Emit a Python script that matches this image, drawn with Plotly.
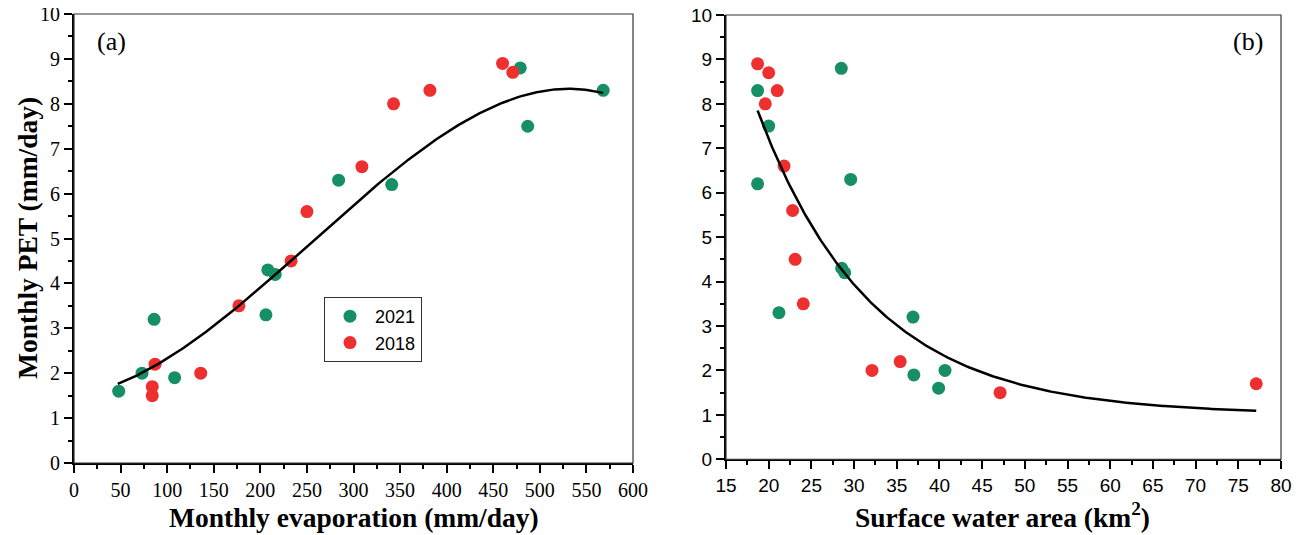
import numpy as np
import plotly.graph_objects as go

# ---------------- data ----------------
# Panel (a): monthly evaporation (mm/day) vs monthly PET (mm/day)
evap_2021 = [48, 73, 86, 108, 206, 208, 216, 284, 341, 479, 487, 568]
pet_2021 = [1.6, 2.0, 3.2, 1.9, 3.3, 4.3, 4.2, 6.3, 6.2, 8.8, 7.5, 8.3]
evap_2018 = [84, 84, 87, 136, 177, 233, 250, 309, 343, 382, 460, 471]
pet_2018 = [1.5, 1.7, 2.2, 2.0, 3.5, 4.5, 5.6, 6.6, 8.0, 8.3, 8.9, 8.7]

fitcurve_a_x = [47, 73, 87, 177, 233, 285, 341, 529, 568]
fitcurve_a_y = [1.74, 2.0, 2.22, 3.45, 4.5, 5.52, 6.45, 8.32, 8.25]

# Panel (b): surface water area (km2) vs monthly PET (mm/day)
area_2021 = [18.7, 20.0, 28.5, 18.7, 29.6, 28.55, 28.9, 21.2, 36.9, 37.0, 40.65, 39.9]
petb_2021 = [8.3, 7.5, 8.8, 6.2, 6.3, 4.3, 4.2, 3.3, 3.2, 1.9, 2.0, 1.6]
area_2018 = [18.7, 20.0, 21.0, 19.6, 21.8, 22.8, 23.1, 24.05, 32.1, 35.4, 47.1, 77.1]
petb_2018 = [8.9, 8.7, 8.3, 8.0, 6.6, 5.6, 4.5, 3.5, 2.0, 2.2, 1.5, 1.7]

x_ticks_a = list(range(0, 601, 50))
x_ticks_b = list(range(15, 81, 5))
y_ticks = list(range(0, 11, 1))

GREEN = "#178f66"
RED = "#ee2f2f"

# ---------------- fits ----------------
coef_a = np.polyfit(np.array(fitcurve_a_x, float), np.array(fitcurve_a_y, float), 3)
fit_xa = np.linspace(min(fitcurve_a_x), max(fitcurve_a_x), 300)
fit_ya = np.polyval(coef_a, fit_xa)

xb = np.array(area_2021 + area_2018, float)
yb = np.array(petb_2021 + petb_2018, float)
x0 = xb.min()
best = None
for t in np.linspace(2, 60, 3000):
    M = np.column_stack([np.ones_like(xb), np.exp(-(xb - x0) / t)])
    c, *_ = np.linalg.lstsq(M, yb, rcond=None)
    sse = float(np.sum((M @ c - yb) ** 2))
    if best is None or sse < best[0]:
        best = (sse, t, c)
_, t_b, c_b = best
fit_xb = np.linspace(xb.min(), xb.max(), 300)
fit_yb = c_b[0] + c_b[1] * np.exp(-(fit_xb - x0) / t_b)

# ---------------- figure ----------------
OFF = 8                      # page body margin
FW, FH = 1302 - OFF, 535 - OFF


def px(x):
    return (x - OFF) / FW


def py(y):
    return 1 - (y - OFF) / FH


fig = go.Figure()

mk = dict(size=13, line=dict(width=0))
fig.add_trace(go.Scatter(x=evap_2021, y=pet_2021, mode="markers", name="2021",
                         marker=dict(color=GREEN, **mk), xaxis="x", yaxis="y"))
fig.add_trace(go.Scatter(x=evap_2018, y=pet_2018, mode="markers", name="2018",
                         marker=dict(color=RED, **mk), xaxis="x", yaxis="y"))
fig.add_trace(go.Scatter(x=fit_xa, y=fit_ya, mode="lines", showlegend=False,
                         line=dict(color="black", width=2.5), xaxis="x", yaxis="y"))

fig.add_trace(go.Scatter(x=area_2021, y=petb_2021, mode="markers", showlegend=False,
                         marker=dict(color=GREEN, **mk), xaxis="x2", yaxis="y2"))
fig.add_trace(go.Scatter(x=area_2018, y=petb_2018, mode="markers", showlegend=False,
                         marker=dict(color=RED, **mk), xaxis="x2", yaxis="y2"))
fig.add_trace(go.Scatter(x=fit_xb, y=fit_yb, mode="lines", showlegend=False,
                         line=dict(color="black", width=2.5), xaxis="x2", yaxis="y2"))

serif = "Liberation Serif, Times New Roman, serif"
sans = "Liberation Sans, Arial, sans-serif"

dom_xa = [px(74), px(633)]
dom_ya = [py(463), py(14)]
dom_xb = [px(726), px(1281)]
dom_yb = [py(459.3), py(15)]


def axis(domain, rng, ticks, font, size, anchor, minor_dtick):
    return dict(domain=domain, range=rng, tickmode="array", tickvals=ticks,
                ticktext=[str(t) for t in ticks], showgrid=False, zeroline=False,
                showline=True, linecolor="black", linewidth=2, mirror=False,
                ticks="outside", ticklen=8, tickwidth=1.5, tickcolor="black",
                minor=dict(ticks="outside", ticklen=4, tickwidth=1.5, tickcolor="black",
                           dtick=minor_dtick, tick0=rng[0], showgrid=False),
                tickfont=dict(family=font, size=size, color="black"),
                ticklabeloverflow="allow",
                anchor=anchor, fixedrange=True)


fig.update_layout(
    width=FW, height=FH,
    margin=dict(l=0, r=0, t=0, b=0, autoexpand=False),
    paper_bgcolor="white", plot_bgcolor="white",
    xaxis=axis(dom_xa, [0, 600], x_ticks_a, serif, 20, "y", 25),
    yaxis=axis(dom_ya, [0, 10], y_ticks, serif, 20, "x", 0.5),
    xaxis2=axis(dom_xb, [15, 80], x_ticks_b, sans, 19, "y2", 2.5),
    yaxis2=axis(dom_yb, [0, 10], y_ticks, sans, 19, "x2", 0.5),
    legend=dict(x=px(324), y=py(297), xanchor="left", yanchor="top",
                bordercolor="#333333", borderwidth=1, bgcolor="white",
                font=dict(family=sans, size=18, color="black"),
                itemwidth=40, tracegroupgap=0),
    showlegend=True,
)

# frame boxes (thin top/right borders)
for xr, yr in (("x domain", "y domain"), ("x2 domain", "y2 domain")):
    fig.add_shape(type="rect", xref=xr, yref=yr, x0=0, y0=0, x1=1, y1=1,
                  line=dict(color="#333333", width=1.2), layer="above")


def label(text, x, y, size, angle=0):
    return dict(text=text, x=px(x), y=py(y), xref="paper", yref="paper",
                xanchor="center", yanchor="middle", showarrow=False, textangle=angle,
                font=dict(family=serif, size=size, color="black"))


fig.update_layout(annotations=[
    label("(a)", 111, 42, 26),
    label("(b)", 1248, 42, 26),
    label("<b>Monthly evaporation (mm/day)</b>", 354, 517, 27.5),
    label("<b>Surface water area (km<sup>2</sup>)</b>", 1002, 515, 27.5),
    label("<b>Monthly PET (mm/day)</b>", 27, 238, 27.5, -90),
])

fig.write_html("out.html")
